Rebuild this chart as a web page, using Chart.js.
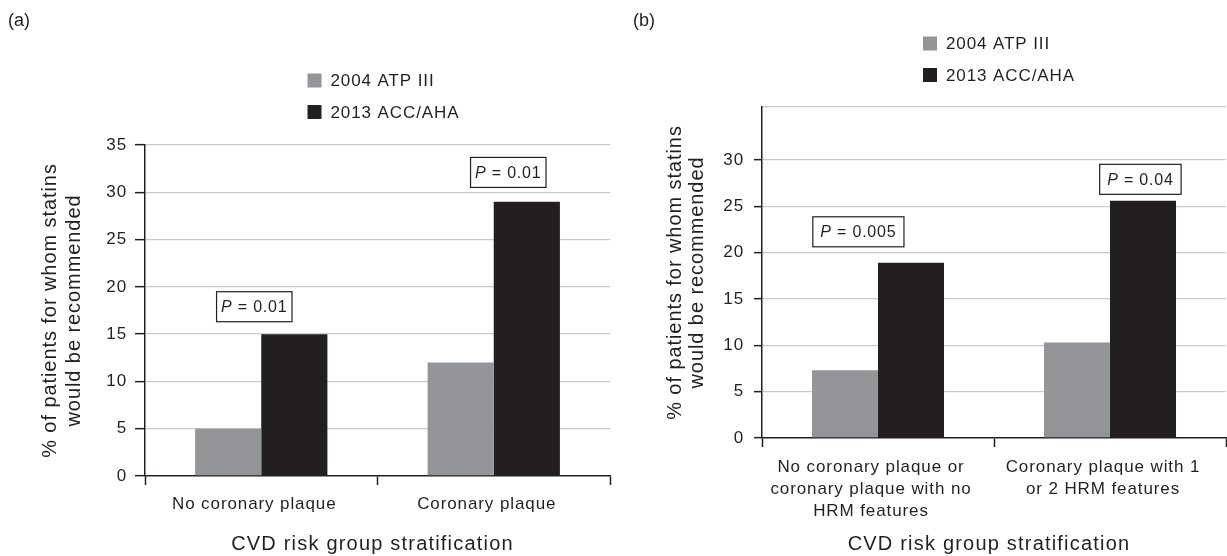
<!DOCTYPE html>
<html>
<head>
<meta charset="utf-8">
<script src="https://cdn.jsdelivr.net/npm/chart.js@4.4.1/dist/chart.umd.min.js"></script>
<style>
  html, body { margin: 0; padding: 0; background: #ffffff; }
  body { width: 1227px; height: 556px; position: relative; overflow: hidden; }
  .wrap { position: absolute; top: 0; height: 556px; }
  #wa { left: 0; width: 640px; }
  #wb { left: 620px; width: 607px; }
</style>
</head>
<body>
<div class="wrap" id="wa"><canvas id="ca"></canvas></div>
<div class="wrap" id="wb"><canvas id="cb"></canvas></div>
<script>
// ---------- data ----------
const seriesLabels = ['2004 ATP III', '2013 ACC/AHA'];

const categoriesA = ['No coronary plaque', 'Coronary plaque'];
const atp2004A = [5, 12];
const acc2013A = [15, 29];
const pValuesA = ['0.01', '0.01'];
const yTicksA = [0, 5, 10, 15, 20, 25, 30, 35];

const categoriesB = [
  ['No coronary plaque or', 'coronary plaque with no', 'HRM features'],
  ['Coronary plaque with 1', 'or 2 HRM features']
];
const atp2004B = [7.3, 10.3];
const acc2013B = [18.9, 25.6];
const pValuesB = ['0.005', '0.04'];
const yTicksB = [0, 5, 10, 15, 20, 25, 30];
const yMaxB = 35.7;

const yTitleLines = ['% of patients for whom statins', 'would be recommended'];
const xTitleText = 'CVD risk group stratification';

// ---------- styles ----------
const GRAY = '#939598';
const BLACK = '#231f20';
const GRID = '#c9c9c9';
const TEXT = '#231f20';
const FONT = "'Liberation Sans', Arial, Helvetica, sans-serif";

const spacingPlugin = {
  id: 'spacing',
  beforeUpdate(chart) { chart.ctx.letterSpacing = '0.9px'; },
  beforeDraw(chart) { chart.ctx.letterSpacing = '0.9px'; }
};

const decoPlugin = {
  id: 'deco',
  afterDraw(chart, args, o) {
    const ctx = chart.ctx;
    const ca = chart.chartArea;
    const xs = chart.scales.x, ys = chart.scales.y;
    ctx.save();
    ctx.fillStyle = TEXT;
    ctx.strokeStyle = TEXT;

    // panel label
    ctx.letterSpacing = '0px';
    ctx.font = '18px ' + FONT;
    ctx.textAlign = 'left';
    ctx.textBaseline = 'middle';
    ctx.fillText(o.panel, o.panelX, o.panelY);

    // legend
    ctx.font = '17px ' + FONT;
    ctx.letterSpacing = '0.9px';
    const lx = (ca.left + ca.right) / 2 + o.legendDX;
    chart.data.datasets.forEach((ds, i) => {
      const cy = o.legendY[i];
      ctx.fillStyle = ds.backgroundColor;
      ctx.fillRect(lx, cy - 7, 14, 14);
      ctx.fillStyle = TEXT;
      ctx.textAlign = 'left';
      ctx.fillText(ds.label, lx + 23, cy + 1);
    });

    // y title
    ctx.font = '20px ' + FONT;
    ctx.letterSpacing = '0.93px';
    ctx.textAlign = 'center';
    const cyMid = (ca.top + ca.bottom) / 2;
    o.yTitle.forEach((line, i) => {
      ctx.save();
      ctx.translate(o.yTitleX[i], cyMid);
      ctx.rotate(-Math.PI / 2);
      ctx.fillText(line, 0, 0);
      ctx.restore();
    });

    // x title
    ctx.letterSpacing = '1.2px';
    ctx.fillText(o.xTitle, (ca.left + ca.right) / 2 + o.xTitleDX, o.xTitleY);

    // P-value boxes
    ctx.letterSpacing = '0.8px';
    o.pValues.forEach((pv, i) => {
      const b = o.boxes[i];
      const cx = xs.getPixelForValue(b.cat);
      const cy = ys.getPixelForValue(b.y);
      ctx.font = 'italic 16px ' + FONT;
      const wP = ctx.measureText('P').width;
      ctx.font = '16px ' + FONT;
      const rest = ' = ' + pv;
      const wR = ctx.measureText(rest).width;
      const tw = wP + wR;
      const bw = tw + 2 * o.boxPadX;
      const bh = 30;
      ctx.lineWidth = 1.2;
      ctx.fillStyle = '#ffffff';
      ctx.fillRect(cx - bw / 2, cy - bh / 2, bw, bh);
      ctx.strokeRect(cx - bw / 2, cy - bh / 2, bw, bh);
      ctx.fillStyle = TEXT;
      ctx.textAlign = 'left';
      ctx.font = 'italic 16px ' + FONT;
      ctx.fillText('P', cx - tw / 2, cy + 1);
      ctx.font = '16px ' + FONT;
      ctx.fillText(rest, cx - tw / 2 + wP, cy + 1);
    });
    ctx.restore();
  }
};

function makeChart(canvasId, cfg) {
  return new Chart(document.getElementById(canvasId), {
    type: 'bar',
    data: {
      labels: cfg.categories,
      datasets: [
        { label: seriesLabels[0], data: cfg.s1, backgroundColor: GRAY, borderWidth: 0 },
        { label: seriesLabels[1], data: cfg.s2, backgroundColor: BLACK, borderWidth: 0 }
      ]
    },
    options: {
      responsive: true,
      maintainAspectRatio: false,
      animation: false,
      events: [],
      categoryPercentage: 0.569,
      barPercentage: 1.0,
      layout: { padding: cfg.padding },
      plugins: {
        legend: { display: false },
        tooltip: { enabled: false },
        deco: cfg.deco
      },
      scales: {
        x: {
          offset: true,
          afterFit(s) { s.height = cfg.xHeight; },
          grid: {
            offset: true,
            drawOnChartArea: false,
            drawTicks: true,
            tickLength: 9,
            tickColor: BLACK,
            tickWidth: 1.5
          },
          border: { display: true, color: BLACK, width: 1.5 },
          ticks: {
            color: TEXT,
            font: { family: FONT, size: 17, lineHeight: 22 / 17 },
            padding: cfg.xPad,
            labelOffset: -7,
            maxRotation: 0,
            autoSkip: false
          }
        },
        y: {
          min: 0,
          max: cfg.yMax,
          afterFit(s) { s.width = cfg.yWidth; },
          afterBuildTicks(s) {
            const t = cfg.yTicks.map(v => ({ value: v }));
            if (cfg.yMax > cfg.yTicks[cfg.yTicks.length - 1]) t.push({ value: cfg.yMax });
            s.ticks = t;
          },
          grid: {
            color: c => (c.tick && c.tick.value === 0) ? 'rgba(0,0,0,0)' : GRID,
            lineWidth: 1.3,
            drawTicks: true,
            tickLength: cfg.yTickLen,
            tickColor: c => (c.tick && cfg.yTicks.indexOf(c.tick.value) === -1) ? 'rgba(0,0,0,0)' : BLACK,
            tickWidth: 1.5
          },
          border: { display: true, color: BLACK, width: 1.5 },
          ticks: {
            color: TEXT,
            font: { family: FONT, size: 17 },
            padding: cfg.yPad,
            callback: v => (cfg.yTicks.indexOf(v) === -1 ? '' : String(v))
          }
        }
      }
    },
    plugins: [spacingPlugin, decoPlugin]
  });
}

makeChart('ca', {
  categories: categoriesA, s1: atp2004A, s2: acc2013A,
  yTicks: yTicksA, yMax: 35,
  padding: { left: 0, right: 30, top: 145, bottom: 0 },
  yWidth: 145, xHeight: 80, xPad: 8, yTickLen: 10, yPad: 8,
  deco: {
    panel: '(a)', panelX: 8, panelY: 21,
    legendDX: -70, legendY: [80.5, 112],
    yTitle: yTitleLines, yTitleX: [50, 74],
    xTitle: xTitleText, xTitleDX: -5, xTitleY: 544,
    pValues: pValuesA,
    boxes: [{ cat: -0.03, y: 17.9 }, { cat: 1.0625, y: 32.1 }],
    boxPadX: 4.5
  }
});

makeChart('cb', {
  categories: categoriesB, s1: atp2004B, s2: acc2013B,
  yTicks: yTicksB, yMax: yMaxB,
  padding: { left: 0, right: 1, top: 107, bottom: 0 },
  yWidth: 142, xHeight: 118, xPad: 9, yTickLen: 8, yPad: 10,
  deco: {
    panel: '(b)', panelX: 13, panelY: 21,
    legendDX: -71, legendY: [43.5, 75],
    yTitle: yTitleLines, yTitleX: [55, 77],
    xTitle: xTitleText, xTitleDX: -5, xTitleY: 544,
    pValues: pValuesB,
    boxes: [{ cat: -0.0845, y: 22.24 }, { cat: 1.131, y: 27.9 }],
    boxPadX: 7.5
  }
});
</script>
</body>
</html>
